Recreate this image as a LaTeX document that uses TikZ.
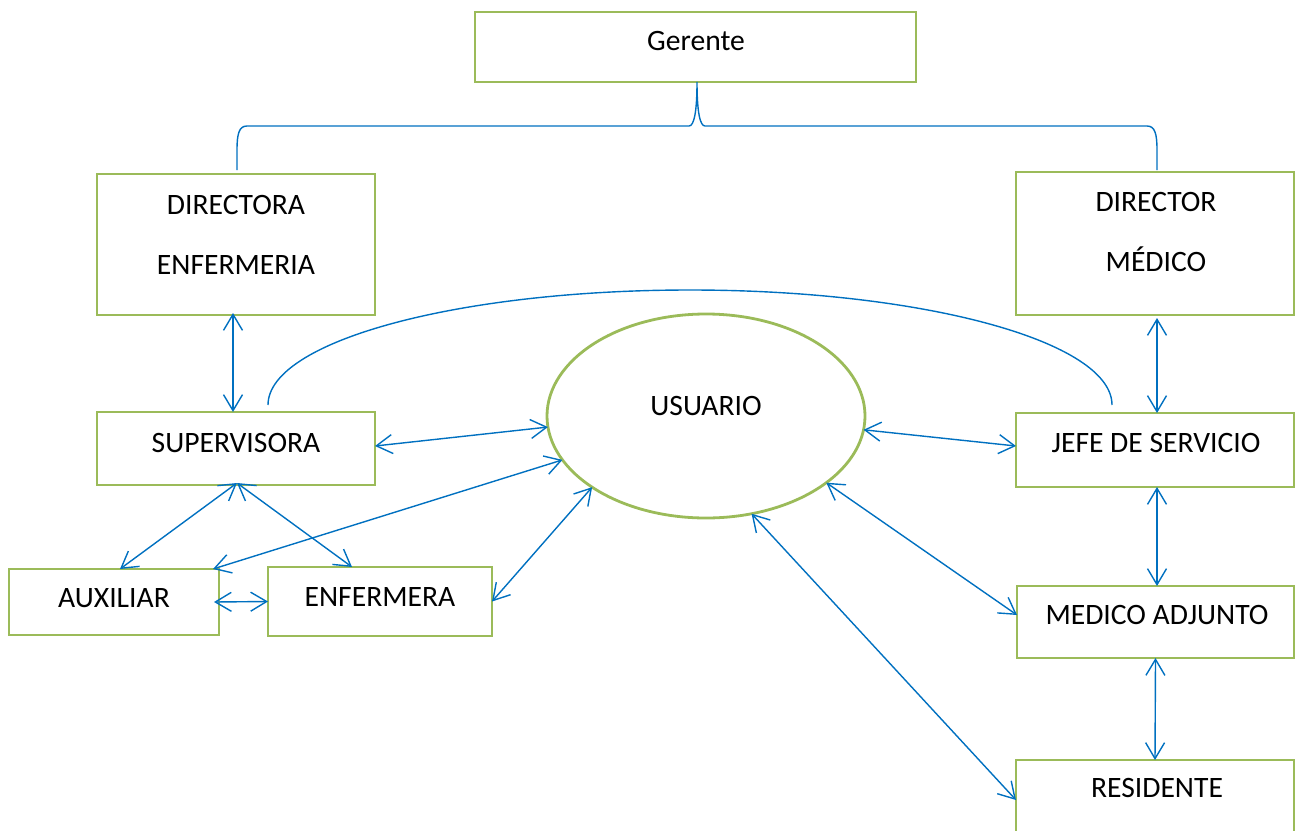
\documentclass[tikz,border=0pt]{standalone}
\usepackage{fontspec}
\setmainfont{Carlito}
\usetikzlibrary{arrows.meta,shapes.geometric,calc}
\definecolor{boxgreen}{HTML}{9BBB59}
\definecolor{linkblue}{RGB}{0,112,192}
\tikzset{
  orgbox/.style={draw=boxgreen, line width=2.8pt, rectangle, inner sep=0pt, outer sep=0pt},
  userell/.style={draw=boxgreen, line width=2.8pt, ellipse, inner sep=0pt, outer sep=0pt},
  lbl/.style={anchor=base, inner sep=0pt, font=\fontsize{29.6}{35}\selectfont},
  bl/.style={draw=linkblue, line width=1.4pt},
  twoway/.style={bl, {Straight Barb[length=16pt,width=19pt]}-{Straight Barb[length=16pt,width=19pt]}}
}
\begin{document}
\begin{tikzpicture}[x=1pt,y=-1pt]
\useasboundingbox (0,0) rectangle (1295,830);
\clip (0,0) rectangle (1295,830);
% boxes
\node[orgbox, minimum width=441pt, minimum height=70pt] (ger) at (695.5,47) {};
\node[orgbox, minimum width=278pt, minimum height=141pt] (dirE) at (236,244.5) {};
\node[orgbox, minimum width=278pt, minimum height=143pt] (dirM) at (1155,243.5) {};
\node[orgbox, minimum width=278pt, minimum height=73pt] (sup) at (236,448.5) {};
\node[orgbox, minimum width=278pt, minimum height=74pt] (jefe) at (1155,450) {};
\node[orgbox, minimum width=210pt, minimum height=66pt] (aux) at (114,602) {};
\node[orgbox, minimum width=224pt, minimum height=69pt] (enf) at (380,601.5) {};
\node[orgbox, minimum width=277pt, minimum height=72pt] (medA) at (1155.5,622) {};
\node[orgbox, minimum width=278pt, minimum height=90pt] (res) at (1155,805) {};
\node[userell, minimum width=318pt, minimum height=204pt] (usr) at (706,416) {};
% labels
\node[lbl] (tGer) at (696,50) {Gerente};
\node[lbl] (tDirE1) at (236,214) {DIRECTORA};
\node[lbl] (tDirE2) at (236,274) {ENFERMERIA};
\node[lbl] (tDirM1) at (1156,211) {DIRECTOR};
\node[lbl] (tDirM2) at (1156,271) {MÉDICO};
\node[lbl] (tSup) at (236,452) {SUPERVISORA};
\node[lbl] (tUsr) at (706,415) {USUARIO};
\node[lbl] (tJefe) at (1156,452) {JEFE DE SERVICIO};
\node[lbl] (tAux) at (114,607) {AUXILIAR};
\node[lbl] (tEnf) at (380,606) {ENFERMERA};
\node[lbl] (tMedA) at (1157,624) {MEDICO ADJUNTO};
\node[lbl] (tRes) at (1157,797) {RESIDENTE};
% brace under Gerente
\draw[bl] ($(dirE.north)+(1,-4)$) -- (237,150)
  .. controls (237,134) and (239,126) .. (247,126) -- (689,126)
  .. controls (694,126) and (697,112) .. ($(ger.south)+(1.5,0)$)
  .. controls (697,112) and (700,126) .. (705,126) -- (1147,126)
  .. controls (1155,126) and (1157,134) .. (1157,150) -- ($(dirM.north)+(2,-2)$);
% arc between Supervisora and Jefe de servicio
\draw[bl] ([xshift=32pt,yshift=7pt]sup.north) arc[start angle=180, end angle=360, x radius=422, y radius=115];
% connectors
\draw[twoway] ([xshift=-3pt,yshift=2pt]dirE.south) -- ([xshift=-3pt]sup.north);
\draw[twoway] ([yshift=2.5pt]sup.east) -- (usr.184.7);
\draw[twoway] ([xshift=-6pt]aux.north east) -- (usr.197.5);
\draw[twoway] (enf.east) -- (usr.212);
\draw[twoway] ([xshift=1pt,yshift=2pt]sup.south) -- ([xshift=6pt]aux.north);
\draw[twoway] ([xshift=1pt,yshift=2pt]sup.south) -- ([xshift=-28pt]enf.north);
\draw[twoway] ([xshift=-5pt]aux.east) -- (enf.west);
\draw[twoway] (usr.355.3) -- ([yshift=4pt]jefe.west);
\draw[twoway] (usr.331) -- ([yshift=7pt]medA.west);
\draw[twoway] (usr.295.5) -- ([yshift=5pt]res.west);
\draw[twoway] ([xshift=2pt,yshift=-3pt]dirM.south) -- ([xshift=2pt]jefe.north);
\draw[twoway] ([xshift=2pt]jefe.south) -- ([xshift=1.5pt]medA.north);
\draw[twoway] (medA.south) -- (res.north);
\end{tikzpicture}
\end{document}
